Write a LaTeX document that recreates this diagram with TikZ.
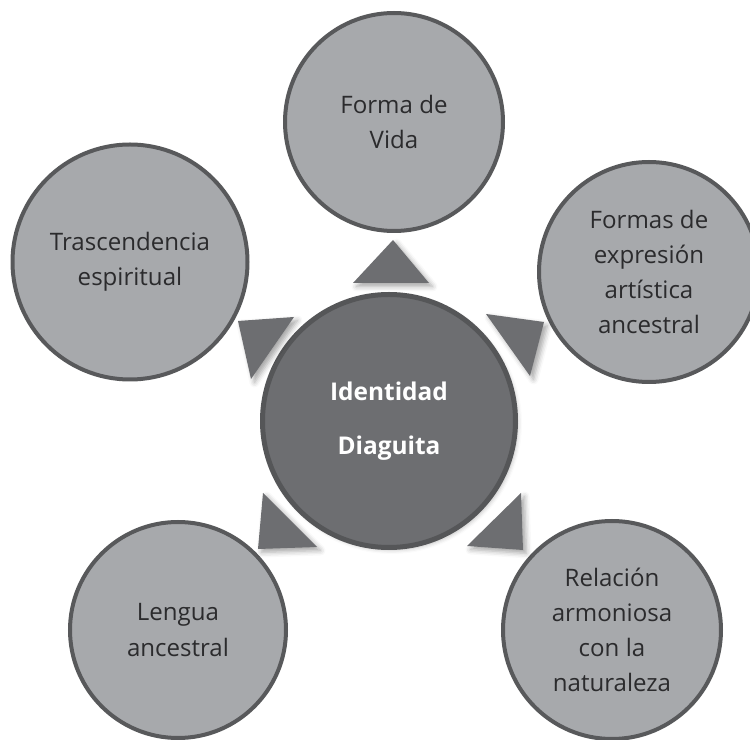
\documentclass[tikz,border=0pt]{standalone}
\usepackage{fontspec}
\setmainfont{Open Sans}
\usetikzlibrary{shadows.blur}
\definecolor{ringfill}{HTML}{A7A9AC}
\definecolor{ringline}{HTML}{58595B}
\definecolor{hubfill}{HTML}{6D6E71}
\definecolor{hubline}{HTML}{555658}
\definecolor{ringtext}{HTML}{2B2B2D}
\tikzset{ring/.style={circle, fill=ringfill, draw=ringline, line width=0.08cm, text=ringtext, align=center, inner sep=0pt, font=\fontsize{13.7}{20}\selectfont},
         hub/.style={circle, fill=hubfill, draw=hubline, line width=0.1cm, text=white, align=center, inner sep=0pt, minimum size=5.06cm, font=\fontsize{13.9}{30.5}\selectfont\bfseries, blur shadow={shadow xshift=0.05cm, shadow yshift=-0.05cm, shadow blur radius=0.08cm, shadow opacity=25}},
         wedge/.style={fill=hubfill, blur shadow={shadow xshift=0.07cm, shadow yshift=-0.07cm, shadow blur radius=0.1cm, shadow opacity=35}}}

\begin{document}
\begin{tikzpicture}
   \clip (0,0) rectangle (15,14.8);
   % centre
   \node[hub] (id) at (7.78,6.38) {Identidad\\Diaguita};
   % outer ring
   \node[ring, minimum size=4.36cm] (vida)   at (7.88,12.36) {Forma de\\Vida};
   \node[ring, minimum size=4.70cm] (trasc)  at (2.60,9.56)  {Trascendencia\\espiritual};
   \node[ring, minimum size=4.40cm] (arte)   at (12.98,9.36) {Formas de\\expresión\\artística\\ancestral};
   \node[ring, minimum size=4.32cm] (lengua) at (3.56,2.20)  {Lengua\\ancestral};
   \node[ring, minimum size=4.36cm] (natur)  at (12.24,2.20) {Relación\\armoniosa\\con la\\naturaleza};
   % wedges
   \fill[wedge] (7.86,10.00) -- (7.06,9.14) -- (8.58,9.14) -- cycle;
   \fill[wedge] (4.76,8.38) -- (5.88,8.46) -- (5.02,7.22) -- cycle;
   \fill[wedge] (10.88,8.36) -- (9.72,8.52) -- (10.60,7.28) -- cycle;
   \fill[wedge] (5.16,3.82) -- (5.26,4.94) -- (6.34,3.86) -- cycle;
   \fill[wedge] (10.46,3.80) -- (10.42,4.94) -- (9.34,3.88) -- cycle;
\end{tikzpicture}
\end{document}
